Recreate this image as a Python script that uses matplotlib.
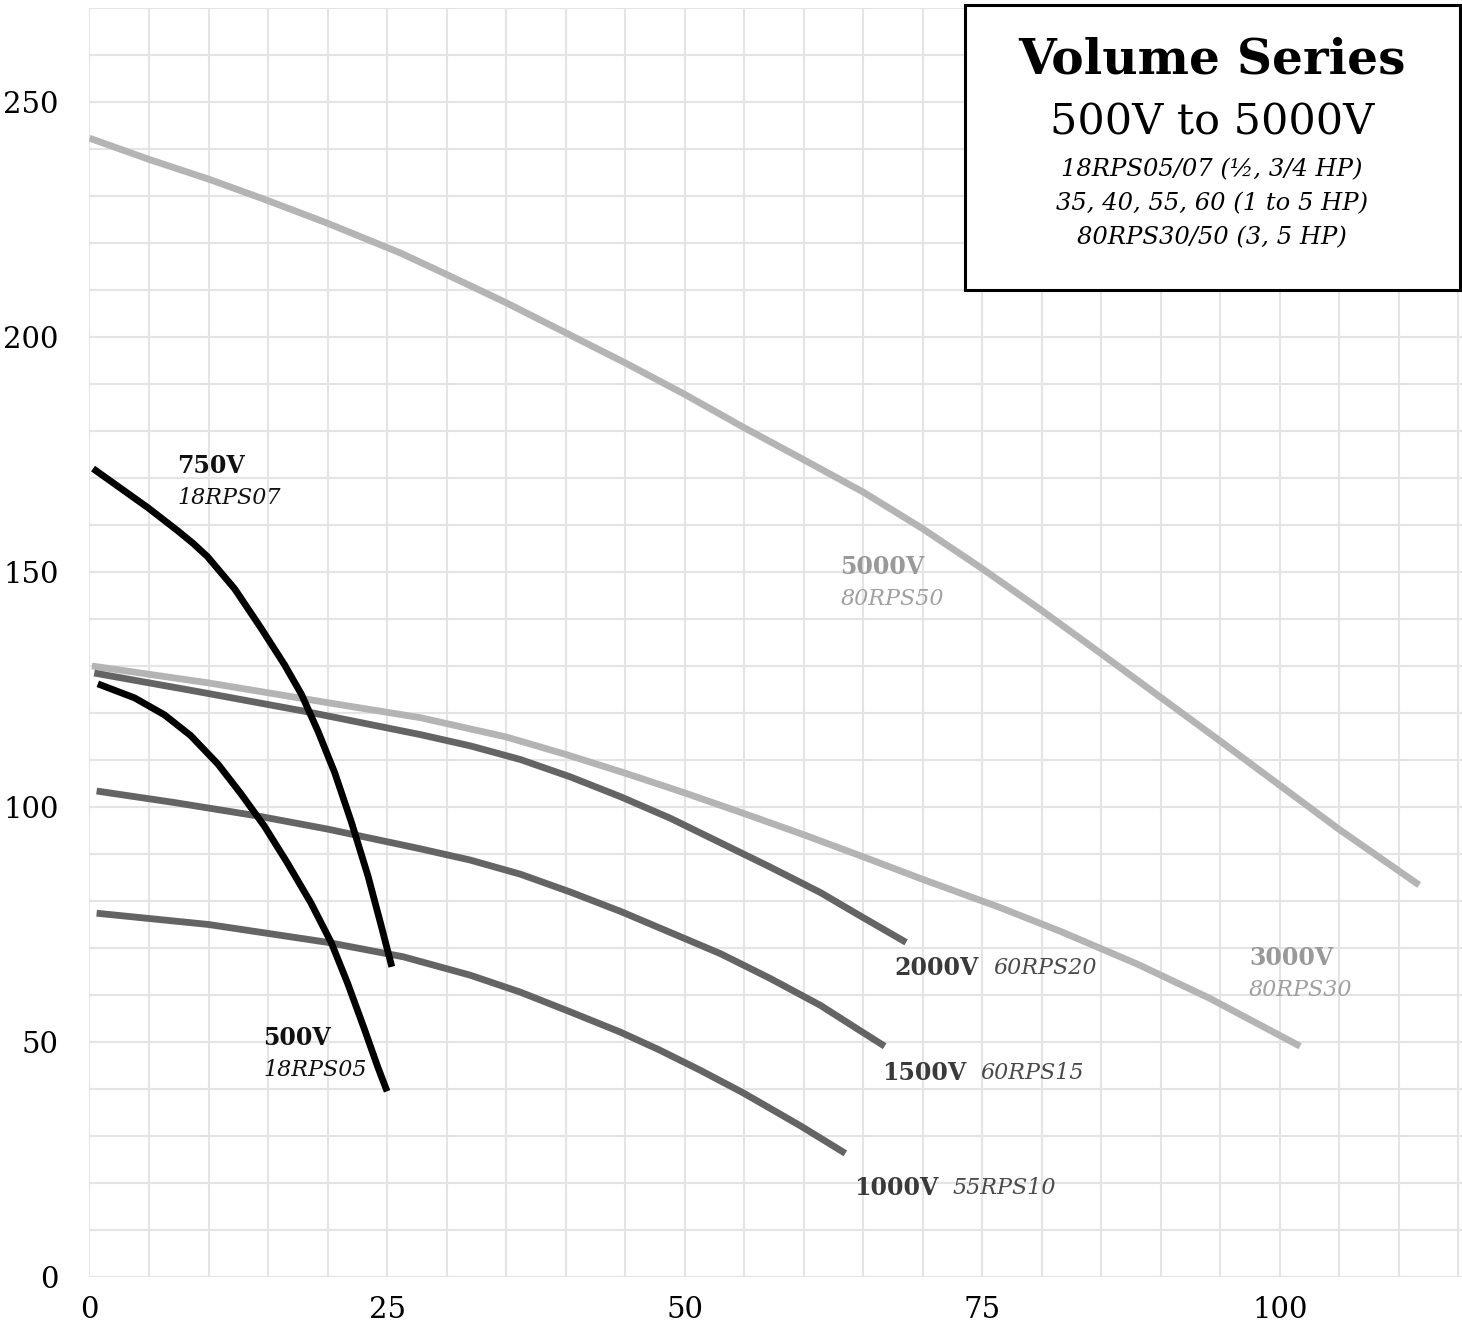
import numpy as np
import matplotlib
matplotlib.use("Agg")
import matplotlib.pyplot as plt
from matplotlib.patches import Rectangle

plt.rcParams['font.family'] = ['DejaVu Serif']

# flow (x) and head (y)
x_5000 = [0, 5.1, 10, 14.9, 20, 26.1, 30, 35, 40, 45, 50, 55, 59.7, 65, 70, 75, 80, 85, 90,
          95, 100, 105, 111.7]
y_5000 = [242.3, 237.7, 233.6, 229.1, 224.2, 217.9, 213.3, 207.3, 200.9, 194.5, 187.8, 180.7,
          174.3, 167.0, 159.2, 150.7, 141.8, 132.6, 123.3, 114.0, 104.6, 95.2, 83.4]

x_3000 = [0.2, 10, 20, 27.8, 35, 40, 45, 50, 55, 60, 65, 70, 76.5, 81.7, 88, 94.1, 101.7]
y_3000 = [130.0, 126.4, 122.2, 119.0, 114.9, 111.2, 107.2, 103.0, 98.6, 94.1, 89.4, 84.6,
          78.6, 73.4, 66.6, 59.3, 49.1]

x_2000 = [0.4, 9, 18, 27.8, 32, 36.2, 40.4, 44.6, 48.8, 53.0, 57.2, 61.4, 64.7, 68.6]
y_2000 = [128.5, 124.6, 120.4, 115.4, 113.0, 110.1, 106.4, 102.2, 97.6, 92.4, 87.2, 81.8,
          76.9, 71.2]

x_1500 = [0.6, 7, 14.1, 20, 27.8, 32, 36.2, 40.4, 44.6, 48.8, 53.0, 57.2, 61.4, 64, 66.8]
y_1500 = [103.4, 101.0, 98.1, 95.3, 91.1, 88.7, 85.7, 81.9, 77.8, 73.3, 68.8, 63.5, 57.8,
          53.6, 49.1]

x_1000 = [0.6, 10, 20.0, 26.4, 32, 36.2, 40.4, 44.6, 47.8, 51.3, 54.9, 59.7, 63.5]
y_1000 = [77.4, 75.0, 71.2, 68.1, 64.2, 60.6, 56.4, 52.1, 48.4, 44.0, 39.2, 32.2, 26.3]

x_750 = [0.3, 4.9, 7.4, 8.7, 9.9, 12.2, 14.4, 16.4, 17.8, 19.2, 20.6, 22.0, 23.4, 24.5, 25.4]
y_750 = [172.0, 163.7, 158.8, 156.1, 153.3, 146.4, 138.1, 130.2, 124.0, 116.1, 107.3, 96.8,
         85.3, 74.8, 66.0]

x_500 = [0.7, 3.8, 6.3, 8.5, 10.8, 12.7, 14.7, 16.6, 18.6, 20.3, 21.7, 23.1, 24.2, 25.0]
y_500 = [126.2, 123.2, 119.6, 115.2, 109.1, 102.9, 95.9, 88.2, 79.6, 71.2, 62.4, 52.7,
         44.8, 39.5]

light = '#b4b4b4'
dark = '#646464'

fig = plt.figure(figsize=(14.62, 13.32), dpi=100)
ax = fig.add_axes([0.0612, 0.0413, 0.9388, 0.9527])

lw = 4.9
kw = dict(lw=lw, solid_capstyle='butt', solid_joinstyle='round')
ax.plot(x_5000, y_5000, color=light, **kw)
ax.plot(x_3000, y_3000, color=light, **kw)
ax.plot(x_2000, y_2000, color=dark, **kw)
ax.plot(x_1500, y_1500, color=dark, **kw)
ax.plot(x_1000, y_1000, color=dark, **kw)
ax.plot(x_750, y_750, color='black', **kw)
ax.plot(x_500, y_500, color='black', **kw)

# curve labels
def lab(x, y, volt, model, c1, c2, dy=6.8, dx=None):
    ax.text(x, y, volt, fontsize=17, fontweight='bold', color=c1, ha='left', va='center')
    if dx is None:
        ax.text(x, y - dy, model, fontsize=16, style='italic', color=c2, ha='left', va='center')
    else:
        ax.text(x + dx, y, model, fontsize=16, style='italic', color=c2, ha='left', va='center')

lab(7.4, 172.6, '750V', '18RPS07', '#111111', '#111111')
lab(14.6, 50.8, '500V', '18RPS05', '#111111', '#111111')
lab(63.1, 151.1, '5000V', '80RPS50', '#999999', '#a0a0a0')
lab(97.4, 67.8, '3000V', '80RPS30', '#999999', '#a0a0a0')
lab(67.6, 65.7, '2000V', '60RPS20', '#3a3a3a', '#4a4a4a', dx=8.3)
lab(66.6, 43.4, '1500V', '60RPS15', '#3a3a3a', '#4a4a4a', dx=8.2)
lab(64.2, 18.9, '1000V', '55RPS10', '#3a3a3a', '#4a4a4a', dx=8.3)

ax.set_xlim(0, 115.3)
ax.set_ylim(0, 270)
ax.set_xticks([0, 25, 50, 75, 100])
ax.set_xticks(np.arange(0, 116, 5), minor=True)
ax.set_yticks([0, 50, 100, 150, 200, 250])
ax.set_yticks(np.arange(0, 271, 10), minor=True)
ax.grid(which='both', color='#e4e4e4', lw=1.5)
ax.set_axisbelow(True)
for s in ax.spines.values():
    s.set_visible(False)
ax.tick_params(which='both', length=0)
ax.tick_params(axis='y', pad=22, labelsize=21)
ax.tick_params(axis='x', pad=14, labelsize=21)

# title box
fig.patches.append(Rectangle((0.660, 0.7823), 0.3386, 0.2139, transform=fig.transFigure,
                             facecolor='white', edgecolor='black', lw=2.2, zorder=5))
cx = 0.829
fig.text(cx, 0.955, 'Volume Series', fontsize=35, fontweight='bold', ha='center', va='center', zorder=6)
fig.text(cx, 0.9077, '500V to 5000V', fontsize=31, ha='center', va='center', zorder=6)
fig.text(cx, 0.8724, '18RPS05/07 (½, 3/4 HP)', fontsize=17.5, style='italic', ha='center', va='center', zorder=6)
fig.text(cx, 0.8468, '35, 40, 55, 60 (1 to 5 HP)', fontsize=17.5, style='italic', ha='center', va='center', zorder=6)
fig.text(cx, 0.8213, '80RPS30/50 (3, 5 HP)', fontsize=17.5, style='italic', ha='center', va='center', zorder=6)

fig.savefig('out.png', dpi=100)
